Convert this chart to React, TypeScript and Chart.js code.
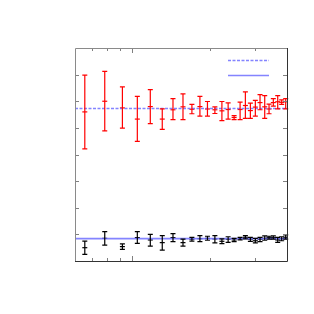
import { useEffect, useRef } from "react";
import { Chart, registerables } from "chart.js";

Chart.register(...registerables);

const xValues = [6.55, 7.83, 9.17, 10.48, 11.77, 13.1, 14.42, 15.77, 17.08, 18.35, 19.63, 20.98, 22.34, 23.62, 24.92, 26.29, 27.56, 28.82, 30.13, 31.42, 32.77, 34.06, 35.39, 36.81, 38.14, 39.54];

const redY = [5.6, 6.0, 5.75, 5.33, 5.8, 5.33, 5.68, 5.79, 5.7, 5.8, 5.71, 5.68, 5.64, 5.69, 5.39, 5.69, 5.84, 5.65, 5.78, 5.95, 5.79, 5.71, 5.95, 5.98, 5.96, 5.98];
const redHi = [6.98, 7.12, 6.54, 6.18, 6.44, 5.71, 6.1, 6.28, 5.88, 6.18, 5.99, 5.79, 5.99, 5.94, 5.46, 5.97, 6.35, 5.93, 6.03, 6.25, 6.21, 5.89, 6.1, 6.21, 6.05, 6.1];
const redLo = [4.21, 4.89, 4.99, 4.49, 5.16, 4.94, 5.31, 5.31, 5.53, 5.44, 5.44, 5.54, 5.27, 5.33, 5.31, 5.31, 5.36, 5.36, 5.44, 5.68, 5.36, 5.53, 5.82, 5.71, 5.88, 5.71];

const blackY = [0.5, 0.85, 0.54, 0.88, 0.79, 0.69, 0.88, 0.69, 0.82, 0.84, 0.85, 0.83, 0.74, 0.82, 0.79, 0.84, 0.89, 0.82, 0.76, 0.82, 0.85, 0.88, 0.88, 0.79, 0.84, 0.89];
const blackHi = [0.75, 1.1, 0.64, 1.1, 1.0, 0.95, 1.03, 0.82, 0.89, 0.95, 0.93, 0.95, 0.83, 0.91, 0.85, 0.89, 0.95, 0.89, 0.85, 0.89, 0.94, 0.93, 0.94, 0.89, 0.91, 0.98];
const blackLo = [0.25, 0.6, 0.44, 0.66, 0.56, 0.41, 0.73, 0.56, 0.75, 0.73, 0.78, 0.68, 0.65, 0.7, 0.73, 0.79, 0.83, 0.74, 0.68, 0.73, 0.78, 0.82, 0.82, 0.7, 0.76, 0.82];

const dashedLevel = 5.73;
const solidLevel = 0.84;

const xMin = 6;
const xMax = 40;
const yMin = 0;
const yMax = 8;
const xTickValues = [7, 8, 9, 10, 20, 30];
const xMajorTicks = [10];
const yTickValues = [1, 2, 3, 4, 5, 6, 7];

const BLUE = "rgba(110,110,255,0.85)";

const errorBarPlugin = {
  id: "errorBars",
  afterDatasetsDraw(chart: any) {
    const ctx = chart.ctx;
    const xs = chart.scales.x;
    const ys = chart.scales.y;
    chart.data.datasets.forEach((ds: any) => {
      if (!ds.errLo) return;
      ctx.save();
      ctx.strokeStyle = ds.borderColor;
      ctx.lineWidth = 1.2;
      ds.data.forEach((p: any, i: number) => {
        const px = xs.getPixelForValue(p.x);
        const yHi = ys.getPixelForValue(ds.errHi[i]);
        const yLo = ys.getPixelForValue(ds.errLo[i]);
        ctx.beginPath();
        ctx.moveTo(px, yHi);
        ctx.lineTo(px, yLo);
        ctx.moveTo(px - 2.5, yHi);
        ctx.lineTo(px + 2.5, yHi);
        ctx.moveTo(px - 2.5, yLo);
        ctx.lineTo(px + 2.5, yLo);
        ctx.stroke();
      });
      ctx.restore();
    });
  },
};

const framePlugin = {
  id: "frame",
  afterDraw(chart: any) {
    const ctx = chart.ctx;
    const { left, right, top, bottom } = chart.chartArea;
    const xs = chart.scales.x;
    const ys = chart.scales.y;
    ctx.save();
    ctx.lineWidth = 1;
    ctx.strokeStyle = "#808080";
    ctx.beginPath();
    xTickValues.forEach((v) => {
      const px = Math.round(xs.getPixelForValue(v)) + 0.5;
      const len = xMajorTicks.includes(v) ? 5 : 3;
      ctx.moveTo(px, bottom);
      ctx.lineTo(px, bottom - len);
      ctx.moveTo(px, top);
      ctx.lineTo(px, top + len);
    });
    yTickValues.forEach((v) => {
      const py = Math.round(ys.getPixelForValue(v)) + 0.5;
      ctx.moveTo(left, py);
      ctx.lineTo(left + 4, py);
      ctx.moveTo(right, py);
      ctx.lineTo(right - 4, py);
    });
    ctx.stroke();
    ctx.strokeStyle = "#8a8a8a";
    ctx.beginPath();
    ctx.moveTo(left + 0.5, bottom);
    ctx.lineTo(left + 0.5, top + 0.5);
    ctx.lineTo(right, top + 0.5);
    ctx.stroke();
    ctx.strokeStyle = "#333";
    ctx.beginPath();
    ctx.moveTo(right + 0.5, top);
    ctx.lineTo(right + 0.5, bottom + 0.5);
    ctx.lineTo(left, bottom + 0.5);
    ctx.stroke();
    // legend samples
    ctx.strokeStyle = BLUE;
    ctx.lineWidth = 1.5;
    ctx.setLineDash([3, 1.5]);
    ctx.beginPath();
    ctx.moveTo(228, 60.5);
    ctx.lineTo(269, 60.5);
    ctx.stroke();
    ctx.setLineDash([]);
    ctx.beginPath();
    ctx.moveTo(228, 75.5);
    ctx.lineTo(269, 75.5);
    ctx.stroke();
    ctx.restore();
  },
};

export default function App() {
  const ref = useRef<HTMLCanvasElement | null>(null);
  useEffect(() => {
    if (!ref.current) return;
    const chart = new Chart(ref.current, {
      type: "scatter",
      data: {
        datasets: [
          {
            type: "line",
            data: [{ x: xMin, y: dashedLevel }, { x: xMax, y: dashedLevel }],
            borderColor: BLUE,
            borderWidth: 1.5,
            borderDash: [3, 1.5],
            pointRadius: 0,
          } as any,
          {
            type: "line",
            data: [{ x: xMin, y: solidLevel }, { x: xMax, y: solidLevel }],
            borderColor: BLUE,
            borderWidth: 1.8,
            pointRadius: 0,
          } as any,
          {
            data: xValues.map((x, i) => ({ x, y: redY[i] })),
            errLo: redLo,
            errHi: redHi,
            borderColor: "#ff0000",
            backgroundColor: "#ff0000",
            pointStyle: "line",
            pointRadius: 2.5,
            borderWidth: 1.2,
          } as any,
          {
            data: xValues.map((x, i) => ({ x, y: blackY[i] })),
            errLo: blackLo,
            errHi: blackHi,
            borderColor: "#000000",
            backgroundColor: "#000000",
            pointStyle: "line",
            pointRadius: 2.5,
            borderWidth: 1.2,
          } as any,
        ],
      },
      options: {
        animation: false,
        responsive: false,
        layout: { padding: { left: 75, right: 27, top: 48, bottom: 53 } },
        plugins: { legend: { display: false }, tooltip: { enabled: false } },
        scales: {
          x: { type: "logarithmic", min: xMin, max: xMax, display: false },
          y: { type: "linear", min: yMin, max: yMax, display: false },
        },
      },
      plugins: [errorBarPlugin, framePlugin],
    });
    return () => chart.destroy();
  }, []);
  return (
    <div style={{ position: "fixed", left: 0, top: 0, width: 314, height: 314, background: "#fff" }}>
      <canvas ref={ref} width={314} height={314} style={{ width: 314, height: 314 }} />
    </div>
  );
}
